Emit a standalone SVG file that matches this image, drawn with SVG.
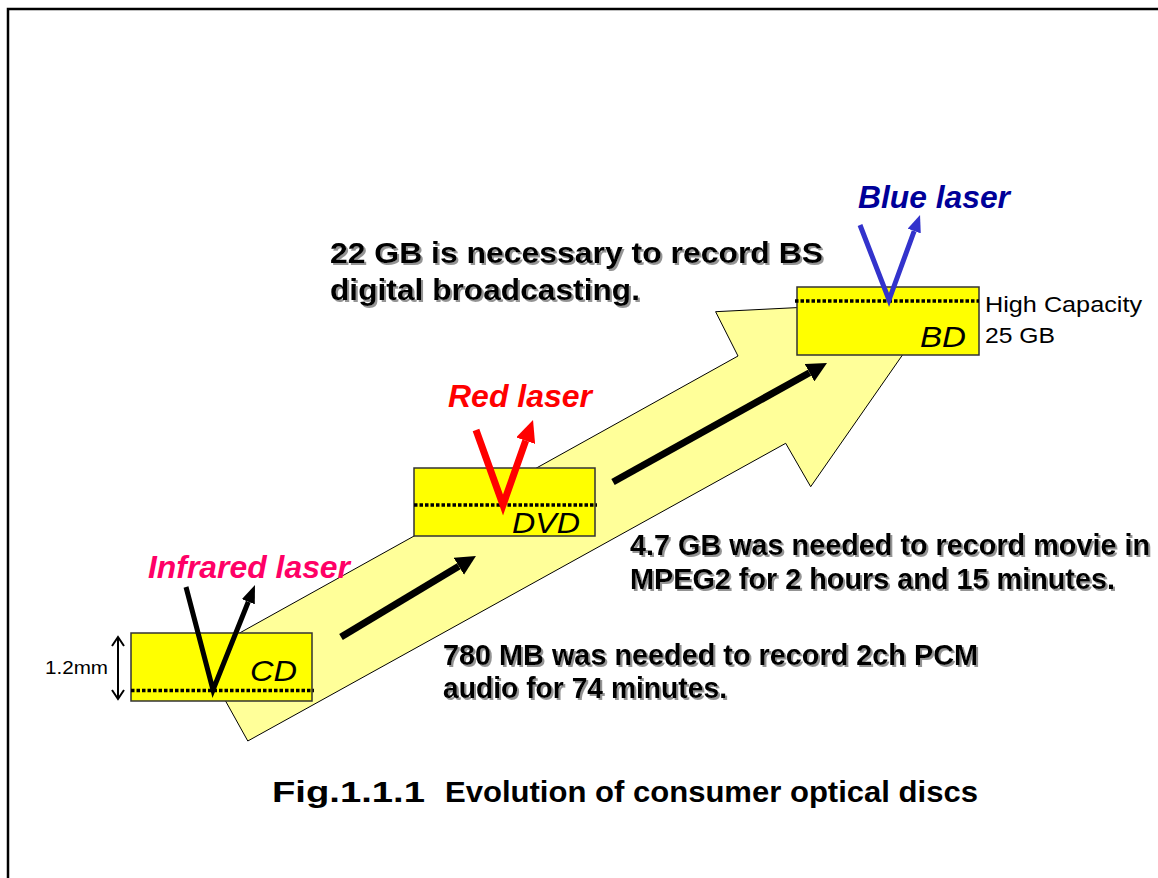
<svg xmlns="http://www.w3.org/2000/svg" width="1158" height="878" viewBox="0 0 1158 878">
<style>
.disc{fill:#FFFF00;stroke:#333;stroke-width:1.5}
.dot{stroke:#000;stroke-width:3.5;stroke-dasharray:3.5,2;fill:none}
.lbl{font-family:"Liberation Sans",Arial,sans-serif;font-style:italic;font-size:29px;fill:#000}
.laser{font-family:"Liberation Sans",Arial,sans-serif;font-style:italic;font-weight:bold;font-size:31px}
.note{font-family:"Liberation Sans",Arial,sans-serif;font-weight:bold;font-size:29px;fill:#000}
.plain{font-family:"Liberation Sans",Arial,sans-serif;font-size:22px;fill:#000}
</style>
<defs>
<filter id="sh" x="-5%" y="-20%" width="110%" height="150%">
<feDropShadow dx="2" dy="2" stdDeviation="0.6" flood-color="#888" flood-opacity="0.9"/>
</filter>
<marker id="mBig" markerUnits="userSpaceOnUse" markerWidth="20" markerHeight="20" viewBox="0 0 20 20" refX="0" refY="10" orient="auto"><path d="M0,0 L20,10 L0,20 z" fill="#000"/></marker>
<marker id="mBlk" markerUnits="userSpaceOnUse" markerWidth="18" markerHeight="14" viewBox="0 0 18 14" refX="0" refY="7" orient="auto"><path d="M0,0 L18,7 L0,14 z" fill="#000"/></marker>
<marker id="mRed" markerUnits="userSpaceOnUse" markerWidth="22" markerHeight="20" viewBox="0 0 22 20" refX="0" refY="10" orient="auto"><path d="M0,0 L22,10 L0,20 z" fill="#FF0000"/></marker>
<marker id="mBlu" markerUnits="userSpaceOnUse" markerWidth="17" markerHeight="14" viewBox="0 0 17 14" refX="0" refY="7" orient="auto"><path d="M0,0 L17,7 L0,14 z" fill="#3333CC"/></marker>
</defs>
<rect width="1158" height="878" fill="#fff"/>
<path d="M8,878 V9 H1158" fill="none" stroke="#000" stroke-width="2.5"/>

<g id="bigArrow">
<polygon points="200,655 738,356 715.6,311.7 940.5,300.4 810.7,486.7 785.7,443.3 247.8,741" fill="#FFFF99" stroke="#000" stroke-width="1"/>
</g>

<g id="connectors">
<path d="M341,637 L458.8,566.3" stroke="#000" stroke-width="7" fill="none" marker-end="url(#mBig)"/>
<path d="M613,482 L809.5,372.7" stroke="#000" stroke-width="7" fill="none" marker-end="url(#mBig)"/>
</g>

<g id="cd">
<rect class="disc" x="131" y="633" width="181" height="68"/>
<line class="dot" x1="131" y1="690.5" x2="314" y2="690.5"/>
<text class="lbl" x="250" y="681" textLength="47" lengthAdjust="spacingAndGlyphs">CD</text>
<path d="M186,587 L213,690 L248.3,601.7" stroke="#000" stroke-width="5" fill="none" stroke-linejoin="miter" marker-end="url(#mBlk)"/>
<text class="laser" x="148" y="578" fill="#FF0066" textLength="202" lengthAdjust="spacingAndGlyphs">Infrared laser</text>
</g>

<g id="thickness">
<path d="M118,637 V699 M112,646 L118,637 L124,646 M112,690 L118,699 L124,690" stroke="#000" stroke-width="2" fill="none"/>
<text class="plain" x="45" y="674" font-size="18" textLength="63" lengthAdjust="spacingAndGlyphs" style="font-size:18px">1.2mm</text>
</g>

<g id="dvd">
<rect class="disc" x="414" y="468" width="181" height="68"/>
<line class="dot" x1="414" y1="505" x2="597" y2="505"/>
<text class="lbl" x="512" y="533" textLength="68" lengthAdjust="spacingAndGlyphs">DVD</text>
<path d="M476,430 L503,505 L525.7,440.7" stroke="#FF0000" stroke-width="7" fill="none" marker-end="url(#mRed)"/>
<text class="laser" x="448" y="407" fill="#FF0000" textLength="144" lengthAdjust="spacingAndGlyphs">Red laser</text>
</g>

<g id="bd">
<rect class="disc" x="797" y="287" width="182" height="68"/>
<line class="dot" x1="795" y1="301" x2="979" y2="301"/>
<text class="lbl" x="920" y="347" textLength="46" lengthAdjust="spacingAndGlyphs">BD</text>
<path d="M860,225 L889,300 L914.2,231" stroke="#3333CC" stroke-width="5" fill="none" marker-end="url(#mBlu)"/>
<text class="laser" x="858" y="208" fill="#000099" textLength="152" lengthAdjust="spacingAndGlyphs">Blue laser</text>
<text class="plain" x="985" y="312" textLength="157" lengthAdjust="spacingAndGlyphs">High Capacity</text>
<text class="plain" x="985" y="343" textLength="70" lengthAdjust="spacingAndGlyphs">25 GB</text>
</g>

<g id="noteBD" filter="url(#sh)">
<text class="note" x="330" y="263" textLength="493" lengthAdjust="spacingAndGlyphs">22 GB is necessary to record BS</text>
<text class="note" x="330" y="300" textLength="310" lengthAdjust="spacingAndGlyphs">digital broadcasting.</text>
</g>
<g id="noteDVD" filter="url(#sh)">
<text class="note" x="630" y="555" textLength="520" lengthAdjust="spacingAndGlyphs">4.7 GB was needed to record movie in</text>
<text class="note" x="630" y="589" textLength="485" lengthAdjust="spacingAndGlyphs">MPEG2 for 2 hours and 15 minutes.</text>
</g>
<g id="noteCD" filter="url(#sh)">
<text class="note" x="443" y="665" textLength="535" lengthAdjust="spacingAndGlyphs">780 MB was needed to record 2ch PCM</text>
<text class="note" x="443" y="698" textLength="284" lengthAdjust="spacingAndGlyphs">audio for 74 minutes.</text>
</g>
<g id="caption">
<text class="note" x="272" y="802" textLength="153" lengthAdjust="spacingAndGlyphs">Fig.1.1.1</text>
<text class="note" x="445" y="802" textLength="533" lengthAdjust="spacingAndGlyphs">Evolution of consumer optical discs</text>
</g>
</svg>
